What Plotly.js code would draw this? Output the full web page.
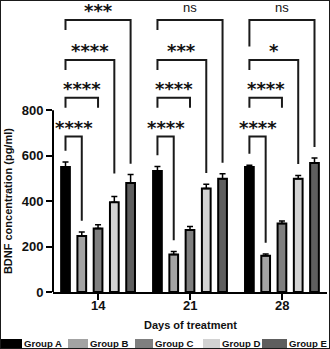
<!DOCTYPE html>
<html>
<head>
<meta charset="utf-8">
<script src="https://cdn.plot.ly/plotly-3.0.1.min.js"></script>
<style>
  html, body { margin: 0; padding: 0; background: #fff; }
  #wrap { width: 330px; height: 349px; box-sizing: border-box; border: 1px solid #1a1a1a; overflow: hidden; }
  #chart { width: 328px; height: 347px; }
</style>
</head>
<body>
<div id="wrap"><div id="chart"></div></div>
<script>
// ---- data ----
const days = ['14', '21', '28'];
const groupNames = ['Group A', 'Group B', 'Group C', 'Group D', 'Group E'];
const groupA = [550, 533, 550];
const groupB = [246, 165, 160];
const groupC = [279, 273, 301];
const groupD = [395, 455, 499];
const groupE = [480, 498, 568];
const errA = [22, 19, 8];
const errB = [18, 13, 7];
const errC = [17, 15, 12];
const errD = [25, 19, 14];
const errE = [37, 23, 22];
const colors = ['#000000', '#a3a3a3', '#7f7f7f', '#d2d2d2', '#5e5e5e'];
// significance of Group A vs B, C, D, E for each day
const sig14 = ['****', '****', '****', '***'];
const sig21 = ['****', '****', '***', 'ns'];
const sig28 = ['****', '****', '*', 'ns'];

// ---- layout constants ----
const W = 328, H = 347;
const M = { l: 52, r: 2, t: 2, b: 56 };
const SLOT = 0.177, BARW = 0.095;
const LEVELS = [684, 855, 1021, 1197];
const leftDrop = [[null, 44, 44, 44], [null, 44, 44, 44], [null, 44, 44, 117]];
const rightGap = [[50, null, 102, 48], [50, null, 50, 48], [50, null, 50, 48]];

const values = [groupA, groupB, groupC, groupD, groupE];
const errs = [errA, errB, errC, errD, errE];
const sigs = [sig14, sig21, sig28];
const xs = days.map((d, i) => i);

// page px -> paper helpers (page = inner + 1 due to border)
const plotW = W - M.l - M.r, plotH = H - M.t - M.b;
const px = p => (p - 1 - M.l) / plotW;
const py = p => (H - M.b - (p - 1)) / plotH;

const traces = values.map((v, i) => ({
  type: 'bar', x: xs, y: v, name: groupNames[i],
  width: BARW, offset: (i - 2) * SLOT - BARW / 2,
  marker: { color: colors[i], line: { color: '#000', width: 2 } },
  error_y: { type: 'data', symmetric: false, array: errs[i], arrayminus: v.map(() => 0),
             color: '#000', thickness: 1.5, width: 3 },
  showlegend: false, hoverinfo: 'none'
}));

const shapes = [];
const annotations = [];

// y axis line only from 0 to 800
shapes.push({ type: 'line', xref: 'paper', yref: 'y', x0: 0, x1: 0, y0: 0, y1: 800,
  line: { color: '#000', width: 2 } });

// significance brackets
days.forEach((d, g) => {
  const topA = values[0][g] + errs[0][g];
  for (let k = 0; k < 4; k++) {
    const t = k + 1;
    const xL = g + (0 - 2) * SLOT, xR = g + (t - 2) * SLOT;
    const lev = LEVELS[k];
    const lEnd = leftDrop[g][k] === null ? topA + 50 : lev - leftDrop[g][k];
    const rEnd = rightGap[g][k] === null ? lev - 44 : values[t][g] + errs[t][g] + rightGap[g][k];
    shapes.push({ type: 'path', xref: 'x', yref: 'y',
      path: `M${xL},${lEnd} L${xL},${lev} L${xR},${lev} L${xR},${rEnd}`,
      line: { color: '#1a1a1a', width: 2 } });
    const lab = sigs[g][k];
    const isNs = lab === 'ns';
    annotations.push({ xref: 'x', yref: 'y', x: (xL + xR) / 2, y: lev + 55,
      text: lab, showarrow: false, xanchor: 'center', yanchor: 'middle',
      yshift: isNs ? 0 : -3,
      font: isNs ? { family: 'Liberation Sans, Arial', size: 13, color: '#111' }
                 : { family: 'DejaVu Sans', size: 18, color: '#111', weight: 'bold' } });
  }
});

// x tick labels (day numbers) placed close to the ticks
days.forEach((d, i) => {
  annotations.push({ xref: 'x', yref: 'paper', x: i, y: py(305.5), text: '<b>' + d + '</b>',
    showarrow: false, xanchor: 'center', yanchor: 'middle',
    font: { family: 'Liberation Sans, Arial', size: 13, color: '#111' } });
});

// axis titles as annotations
annotations.push({ xref: 'paper', yref: 'y', x: px(8), y: 400, text: '<b>BDNF concentration (pg/ml)</b>',
  textangle: -90, showarrow: false, xanchor: 'center', yanchor: 'middle',
  font: { family: 'Liberation Sans, Arial', size: 11, color: '#111' } });
annotations.push({ xref: 'paper', yref: 'paper', x: 0.5, y: py(325), text: '<b>Days of treatment</b>',
  showarrow: false, xanchor: 'center', yanchor: 'middle',
  font: { family: 'Liberation Sans, Arial', size: 11, color: '#111' } });

// legend drawn manually
const swatchX = [[1, 22], [68, 88], [135, 153], [203, 220], [262, 287]];
groupNames.forEach((n, i) => {
  shapes.push({ type: 'rect', xref: 'paper', yref: 'paper',
    x0: px(swatchX[i][0]), x1: px(swatchX[i][1]), y0: py(339), y1: py(349),
    fillcolor: colors[i], line: { width: 0 } });
  annotations.push({ xref: 'paper', yref: 'paper', x: px(swatchX[i][1]), y: py(343.5),
    text: '<b>' + n + '</b>', showarrow: false, xanchor: 'left', yanchor: 'middle',
    font: { family: 'Liberation Sans, Arial', size: 9.6, color: '#111' } });
});

const layout = {
  width: W, height: H,
  margin: M,
  paper_bgcolor: '#fff', plot_bgcolor: '#fff',
  barmode: 'overlay',
  showlegend: false,
  font: { family: 'Liberation Sans, Arial', color: '#111' },
  xaxis: {
    range: [-0.49, 2.49], tickvals: xs, ticktext: days, showticklabels: false,
    showline: true, linecolor: '#000', linewidth: 2,
    ticks: 'outside', ticklen: 6, tickwidth: 2, tickcolor: '#000',
    showgrid: false, zeroline: false
  },
  yaxis: {
    range: [0, 1272], tickvals: [0, 200, 400, 600, 800],
    showline: false, ticks: 'outside', ticklen: 6, tickwidth: 2, tickcolor: '#000',
    showgrid: false, zeroline: false,
    tickfont: { family: 'Liberation Sans, Arial', size: 13, color: '#111', weight: 'bold' }
  },
  shapes: shapes,
  annotations: annotations
};

Plotly.newPlot('chart', traces, layout, { displayModeBar: false, staticPlot: true });
</script>
</body>
</html>
